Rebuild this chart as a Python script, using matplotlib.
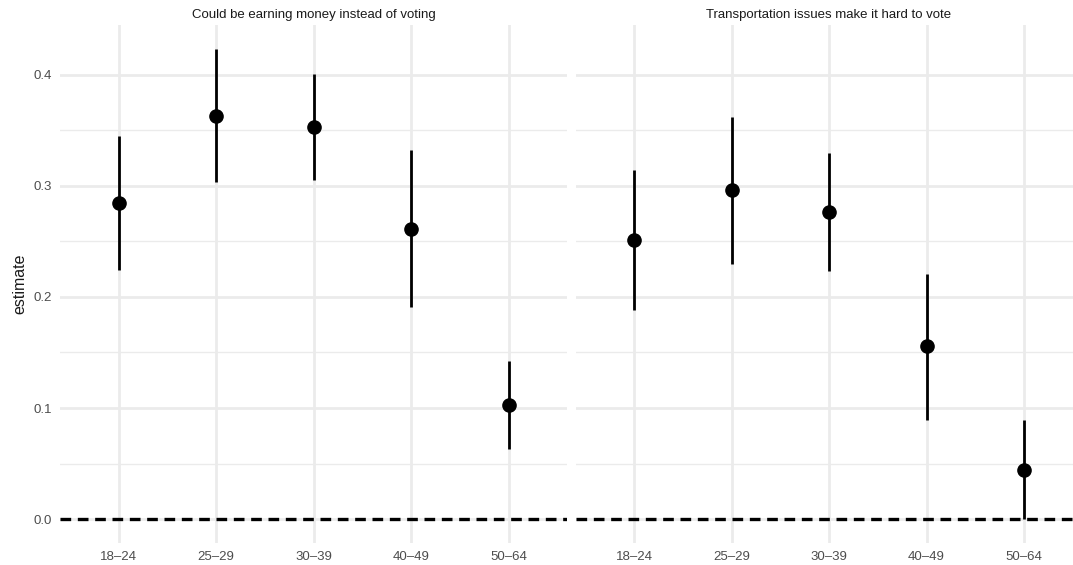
import matplotlib
matplotlib.use("Agg")
import matplotlib.pyplot as plt
import numpy as np

plt.rcParams['font.family'] = ['Liberation Sans', 'DejaVu Sans']

ages = ["18–24", "25–29", "30–39", "40–49", "50–64"]
titles = ["Could be earning money instead of voting",
          "Transportation issues make it hard to vote"]

money_est = [0.285, 0.363, 0.353, 0.261, 0.103]
money_lo = [0.224, 0.304, 0.305, 0.191, 0.063]
money_hi = [0.345, 0.423, 0.401, 0.332, 0.142]

transport_est = [0.251, 0.296, 0.277, 0.156, 0.044]
transport_lo = [0.188, 0.230, 0.223, 0.089, 0.000]
transport_hi = [0.314, 0.362, 0.330, 0.221, 0.089]

panels = [(money_est, money_lo, money_hi), (transport_est, transport_lo, transport_hi)]

fig = plt.figure(figsize=(10.73, 5.65), dpi=100)
W, H = 1073, 565
pw = 507
lefts = [60, 575.5]
grid_c = "#ebebeb"
x = np.arange(1, len(ages) + 1)

for i, (est, lo, hi) in enumerate(panels):
    ax = fig.add_axes([lefts[i] / W, 1 - 543 / H, pw / W, (543 - 25) / H])
    ax.set_xlim(0.4, 5.6)
    ax.set_ylim(-0.0216, 0.445)
    for s in ax.spines.values():
        s.set_visible(False)
    ax.set_yticks([0, 0.1, 0.2, 0.3, 0.4])
    ax.set_yticks([0.05, 0.15, 0.25, 0.35], minor=True)
    ax.set_xticks(x)
    ax.set_xticklabels(ages)
    ax.grid(True, which='major', color=grid_c, lw=2.0)
    ax.grid(True, which='minor', axis='y', color=grid_c, lw=1.0)
    ax.set_axisbelow(True)
    ax.tick_params(which='both', length=0, labelsize=9.5, labelcolor='#4d4d4d', pad=6)
    if i == 0:
        ax.set_yticklabels(["0.0", "0.1", "0.2", "0.3", "0.4"])
        ax.set_ylabel("estimate", fontsize=11.5, color='#1a1a1a', labelpad=4)
    else:
        ax.set_yticklabels([])
    ax.axhline(0, color='black', lw=2.4, ls=(0, (3.2, 2.0)), zorder=2)
    ax.vlines(x, lo, hi, color='black', lw=2.0, zorder=3)
    ax.plot(x, est, 'o', color='black', ms=9.5, zorder=4)
    ax.set_title(titles[i], fontsize=9.5, color='#1a1a1a', pad=5)

fig.savefig("out.png", dpi=100)
